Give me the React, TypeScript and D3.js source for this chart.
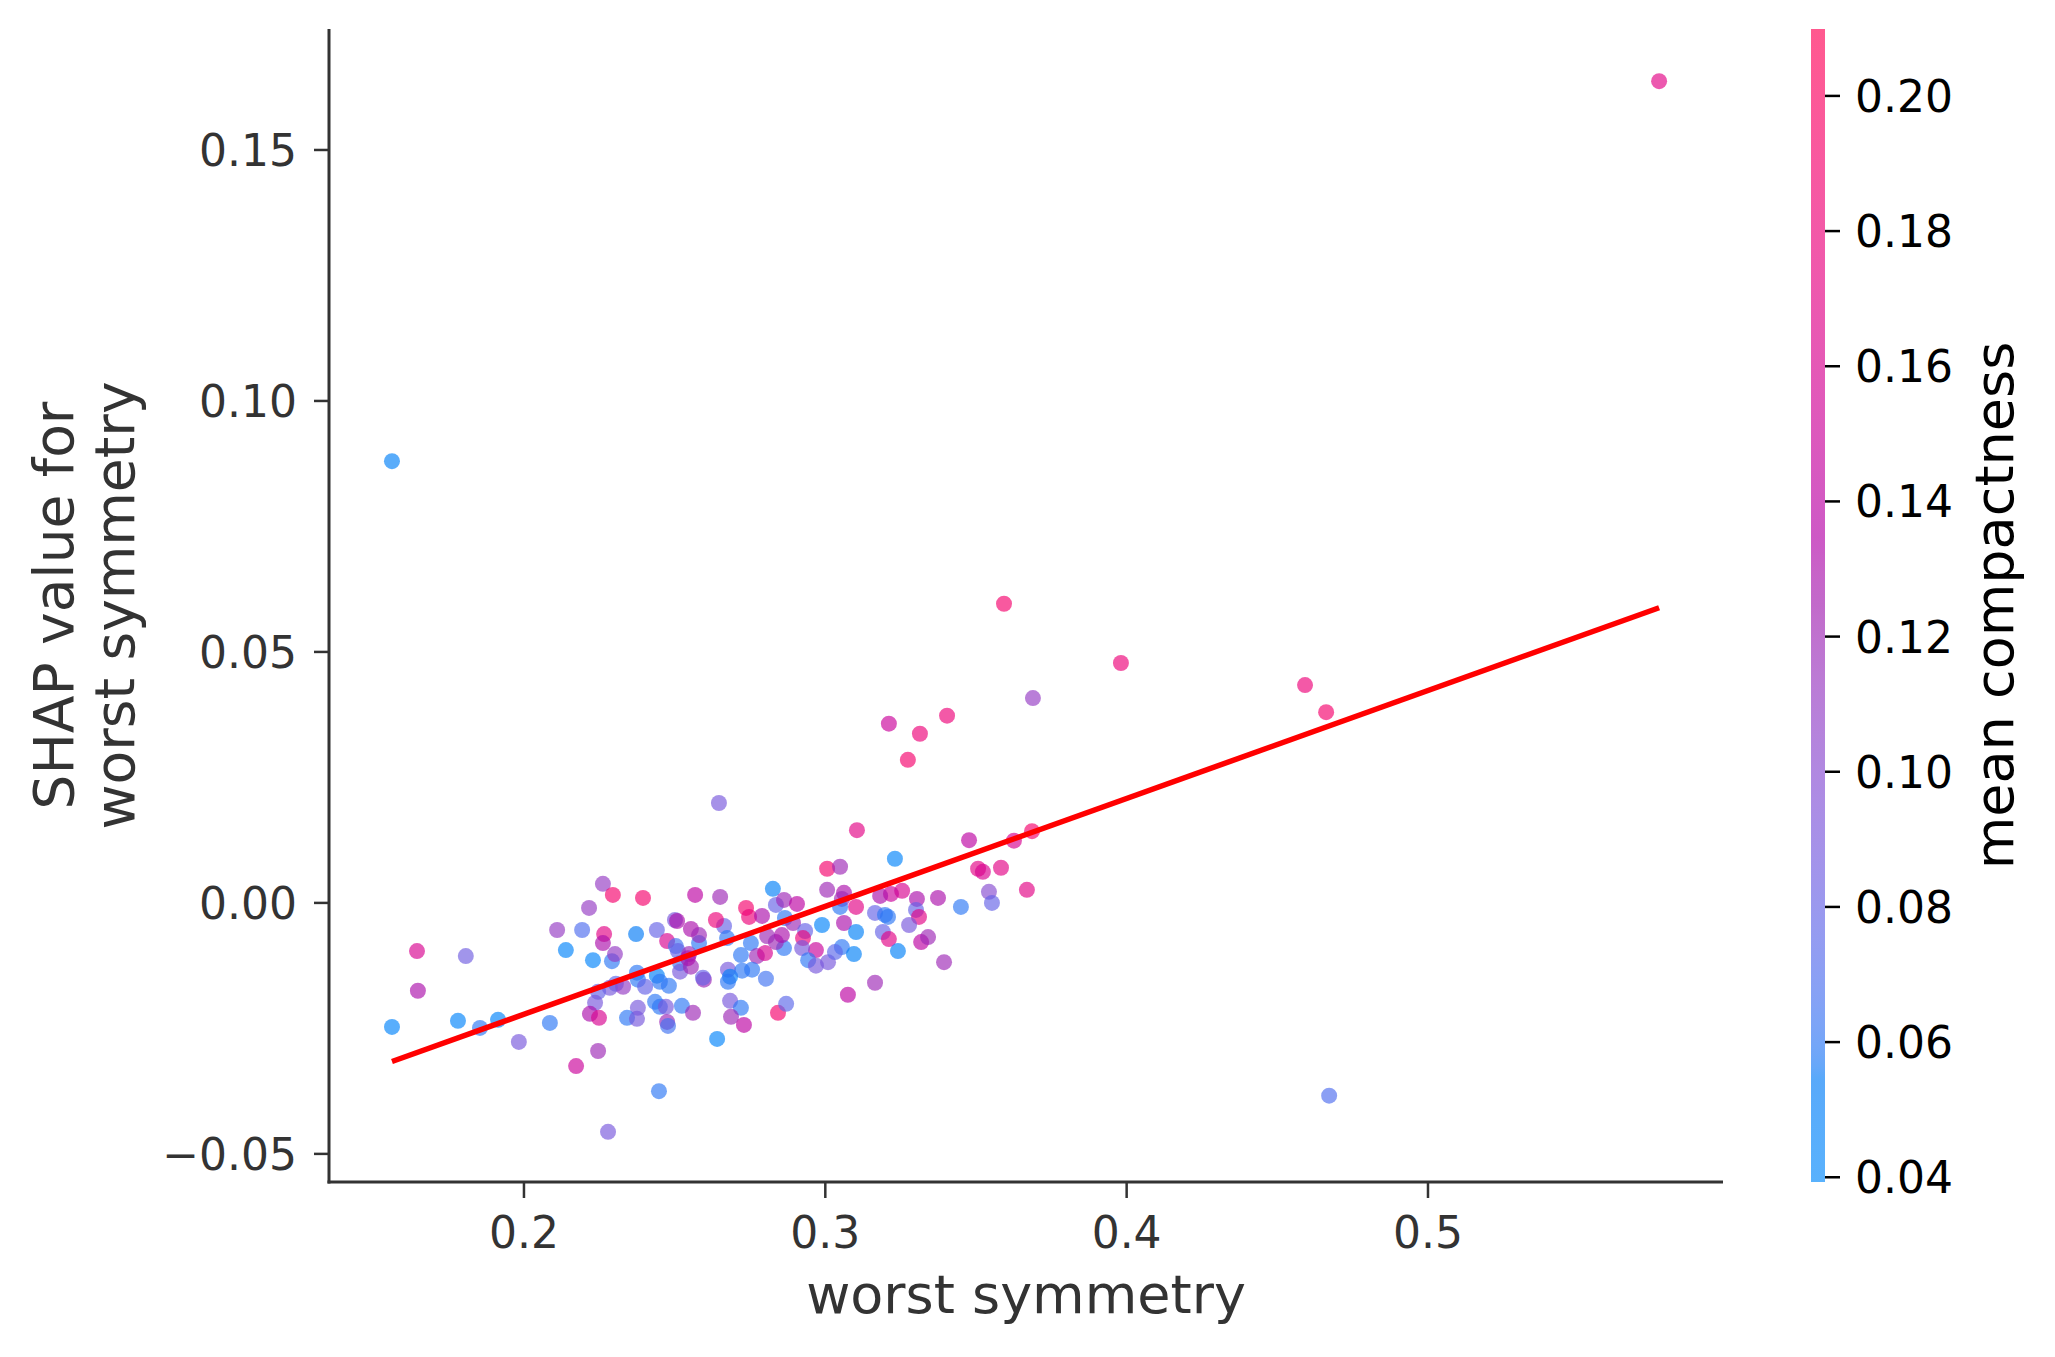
import React from "react";
import * as d3 from "d3";

// ---------- data ----------
const worstSymmetry: number[] = [
  0.1562, 0.1645, 0.1648, 0.1807, 0.1781, 0.1854, 0.1914, 0.1983, 0.2086, 0.2173,
  0.2110, 0.2193, 0.2139, 0.2216, 0.2262, 0.2229, 0.2295, 0.2395, 0.2568, 0.2266,
  0.2262, 0.2372, 0.2441, 0.2501, 0.2508, 0.2554, 0.2475, 0.2504, 0.2511, 0.2548,
  0.2581, 0.2292, 0.2302, 0.2375, 0.2378, 0.2441, 0.2451, 0.2481, 0.2518, 0.2518,
  0.2554, 0.2402, 0.2305, 0.2329, 0.2285, 0.2246, 0.2236, 0.2219, 0.2249, 0.2435,
  0.2451, 0.2471, 0.2378, 0.2342, 0.2375, 0.2475, 0.2478, 0.2524, 0.2561, 0.2448,
  0.2279, 0.2246,
  0.2647, 0.2651, 0.2826, 0.3006, 0.3006, 0.2836, 0.2863, 0.2906, 0.2737, 0.2747,
  0.2790, 0.2866, 0.2893, 0.2989, 0.2933, 0.2926, 0.2969, 0.2923, 0.2943, 0.2969,
  0.3009, 0.2863, 0.2836, 0.2856, 0.2807, 0.2753, 0.2720, 0.2773, 0.2800, 0.2757,
  0.2803, 0.2677, 0.2684, 0.2677, 0.2597, 0.2594, 0.2684, 0.2720, 0.2687, 0.2730,
  0.2641, 0.2843, 0.2870, 0.2664, 0.2674, 0.2637, 0.2581, 0.2544, 0.2724,
  0.3105, 0.3231, 0.3477, 0.3626, 0.3686, 0.3507, 0.3523, 0.3583, 0.3669, 0.3543,
  0.3553, 0.3450, 0.3374, 0.3304, 0.3301, 0.3311, 0.3255, 0.3218, 0.3182, 0.3049,
  0.3062, 0.3055, 0.3049, 0.3102, 0.3165, 0.3198, 0.3208, 0.3278, 0.3062, 0.3102,
  0.3191, 0.3211, 0.3318, 0.3341, 0.3241, 0.3055, 0.3032, 0.3095, 0.3394, 0.3165,
  0.3075,
  0.3593, 0.3689, 0.3404, 0.3314, 0.3211, 0.3274,
  0.1562, 0.3981, 0.4592, 0.4662, 0.4672, 0.5767,
];

const shapValues: number[] = [
  -0.0247, -0.0096, -0.0175, -0.0106, -0.0235, -0.0249, -0.0233, -0.0277, -0.0239, -0.0325,
  -0.0054, -0.0054, -0.0094, -0.0010, 0.0038, -0.0114, 0.0016, 0.0010, 0.0016, -0.0062,
  -0.0080, -0.0062, -0.0054, -0.0034, -0.0036, -0.0052, -0.0076, -0.0086, -0.0096, -0.0102,
  -0.0080, -0.0116, -0.0102, -0.0139, -0.0153, -0.0145, -0.0157, -0.0165, -0.0120, -0.0137,
  -0.0127, -0.0167, -0.0161, -0.0167, -0.0169, -0.0177, -0.0199, -0.0221, -0.0229, -0.0197,
  -0.0207, -0.0207, -0.0209, -0.0229, -0.0231, -0.0237, -0.0245, -0.0205, -0.0219, -0.0375,
  -0.0456, -0.0295,
  0.0199, 0.0012, 0.0028, 0.0068, 0.0026, -0.0004, 0.0006, -0.0002, -0.0010, -0.0028,
  -0.0026, -0.0030, -0.0040, -0.0044, -0.0056, -0.0070, -0.0094, -0.0090, -0.0114, -0.0125,
  -0.0118, -0.0090, -0.0078, -0.0064, -0.0066, -0.0080, -0.0104, -0.0106, -0.0100, -0.0133,
  -0.0151, -0.0133, -0.0147, -0.0157, -0.0153, -0.0149, -0.0195, -0.0209, -0.0227, -0.0243,
  -0.0271, -0.0219, -0.0201, -0.0046, -0.0070, -0.0034, -0.0064, -0.0110, -0.0135,
  0.0145, 0.0088, 0.0125, 0.0124, 0.0143, 0.0068, 0.0062, 0.0070, 0.0026, 0.0022,
  0.0000, -0.0008, 0.0010, 0.0008, -0.0014, -0.0028, 0.0024, 0.0018, 0.0014, 0.0072,
  0.0020, 0.0008, -0.0008, -0.0008, -0.0020, -0.0024, -0.0028, -0.0044, -0.0040, -0.0058,
  -0.0058, -0.0072, -0.0078, -0.0068, -0.0096, -0.0088, -0.0098, -0.0102, -0.0118, -0.0159,
  -0.0183,
  0.0596, 0.0408, 0.0373, 0.0337, 0.0357, 0.0285,
  0.0880, 0.0478, 0.0434, 0.0380, -0.0384, 0.1637,
];

const meanCompactness: number[] = [
  0.045, 0.16, 0.13, 0.085, 0.045, 0.06, 0.045, 0.09, 0.06, 0.15,
  0.11, 0.07, 0.045, 0.11, 0.11, 0.045, 0.19, 0.19, 0.14, 0.17,
  0.13, 0.055, 0.08, 0.09, 0.13, 0.13, 0.16, 0.065, 0.08, 0.12,
  0.06, 0.06, 0.11, 0.06, 0.06, 0.05, 0.06, 0.06, 0.065, 0.09,
  0.12, 0.08, 0.075, 0.11, 0.09, 0.08, 0.09, 0.13, 0.16, 0.06,
  0.06, 0.09, 0.09, 0.06, 0.09, 0.12, 0.065, 0.06, 0.12, 0.06,
  0.09, 0.12,
  0.09, 0.12, 0.05, 0.19, 0.12, 0.08, 0.12, 0.14, 0.19, 0.18,
  0.13, 0.06, 0.12, 0.045, 0.08, 0.18, 0.15, 0.09, 0.06, 0.09,
  0.09, 0.06, 0.12, 0.13, 0.12, 0.06, 0.06, 0.12, 0.16, 0.06,
  0.065, 0.09, 0.05, 0.06, 0.12, 0.08, 0.09, 0.06, 0.12, 0.14,
  0.045, 0.19, 0.075, 0.08, 0.06, 0.18, 0.12, 0.13, 0.06,
  0.17, 0.045, 0.14, 0.16, 0.19, 0.17, 0.16, 0.17, 0.17, 0.1,
  0.08, 0.06, 0.13, 0.13, 0.08, 0.17, 0.16, 0.15, 0.13, 0.12,
  0.13, 0.12, 0.06, 0.17, 0.08, 0.06, 0.06, 0.09, 0.13, 0.05,
  0.08, 0.17, 0.14, 0.12, 0.05, 0.06, 0.075, 0.05, 0.12, 0.12,
  0.14,
  0.19, 0.11, 0.18, 0.18, 0.15, 0.19,
  0.05, 0.18, 0.18, 0.19, 0.07, 0.17,
];

// fitted trend line
const trendX: number[] = [0.1562, 0.5767];
const trendY: number[] = [-0.0316, 0.0588];

const xTicks: number[] = [0.2, 0.3, 0.4, 0.5];
const xTickLabels: string[] = ["0.2", "0.3", "0.4", "0.5"];
const yTicks: number[] = [-0.05, 0.0, 0.05, 0.1, 0.15];
const yTickLabels: string[] = ["\u22120.05", "0.00", "0.05", "0.10", "0.15"];
const cTicks: number[] = [0.04, 0.06, 0.08, 0.1, 0.12, 0.14, 0.16, 0.18, 0.2];
const cTickLabels: string[] = ["0.04", "0.06", "0.08", "0.10", "0.12", "0.14", "0.16", "0.18", "0.20"];

const xDomain: number[] = [0.1353, 0.5979];
const yDomain: number[] = [-0.0556, 0.1741];
const cDomain: number[] = [0.0393, 0.2099];

// ---------- layout ----------
const W = 2055;
const H = 1357;
const AX = { left: 329, right: 1723, top: 29, bottom: 1182 };
const CB = { left: 1811, width: 14 };
const FONT = "'DejaVu Sans', sans-serif";
const AXIS_COLOR = "#333333";
const ALPHA = 0.65;
const LABEL_SIZE = 54;

// SHAP red_blue colormap (CIELAB LCh, lightness dip in the middle)
function redBlue(t: number): string {
  const tt = Math.max(0, Math.min(1, t));
  const l = tt < 0.5 ? 54 + (40 - 54) * (tt / 0.5) : 40 + (54 - 40) * ((tt - 0.5) / 0.5);
  const c = 70 + (90 - 70) * tt;
  const h = 266.93 + (380.32 - 266.93) * tt;
  const col = d3.rgb(d3.hcl(h % 360, c, l));
  const clamp = (v: number) => Math.max(0, Math.min(255, Math.round(v)));
  return d3.rgb(clamp(col.r), clamp(col.g), clamp(col.b)).formatHex();
}

export default function App() {
  const x = d3.scaleLinear().domain(xDomain).range([AX.left, AX.right]);
  const y = d3.scaleLinear().domain(yDomain).range([AX.bottom, AX.top]);
  const cNorm = d3.scaleLinear().domain(cDomain).range([0, 1]).clamp(true);
  const cY = d3.scaleLinear().domain(cDomain).range([AX.bottom, AX.top]);

  const points = worstSymmetry.map((v, i) => ({
    x: v,
    y: shapValues[i],
    c: meanCompactness[i],
  }));

  const line = d3
    .line<number>()
    .x((d) => x(d))
    .y((_, i) => y(trendY[i]));

  const gradStops = d3.range(0, 101).map((i) => i / 100);

  return (
    <svg
      width={W}
      height={H}
      style={{ position: "absolute", left: 0, top: 0, background: "#fff" }}
      fontFamily={FONT}
    >
      <defs>
        <linearGradient id="cbGrad" x1="0" y1="1" x2="0" y2="0">
          {gradStops.map((t) => (
            <stop key={t} offset={t} stopColor={redBlue(t)} stopOpacity={ALPHA} />
          ))}
        </linearGradient>
      </defs>
      <rect x={0} y={0} width={W} height={H} fill="#ffffff" />

      {/* points */}
      <g>
        {points.map((p, i) => (
          <circle
            key={i}
            cx={x(p.x)}
            cy={y(p.y)}
            r={8}
            fill={redBlue(cNorm(p.c))}
            fillOpacity={ALPHA}
          />
        ))}
      </g>

      {/* trend line */}
      <path d={line(trendX) || ""} fill="none" stroke="#ff0000" strokeWidth={5.5} />

      {/* spines */}
      <line x1={AX.left} x2={AX.left} y1={AX.top} y2={AX.bottom + 1.5} stroke={AXIS_COLOR} strokeWidth={3} />
      <line x1={AX.left - 1.5} x2={AX.right} y1={AX.bottom} y2={AX.bottom} stroke={AXIS_COLOR} strokeWidth={3} />

      {/* x ticks */}
      {xTicks.map((t, i) => (
        <g key={"xt" + i}>
          <line x1={x(t)} x2={x(t)} y1={AX.bottom} y2={AX.bottom + 16} stroke={AXIS_COLOR} strokeWidth={2.5} />
          <text x={x(t)} y={1248} textAnchor="middle" fontSize={44} fill={AXIS_COLOR}>
            {xTickLabels[i]}
          </text>
        </g>
      ))}

      {/* y ticks */}
      {yTicks.map((t, i) => (
        <g key={"yt" + i}>
          <line x1={AX.left - 15} x2={AX.left} y1={y(t)} y2={y(t)} stroke={AXIS_COLOR} strokeWidth={2.5} />
          <text x={297} y={y(t) + 16} textAnchor="end" fontSize={44} fill={AXIS_COLOR}>
            {yTickLabels[i]}
          </text>
        </g>
      ))}

      {/* axis labels */}
      <text x={(AX.left + AX.right) / 2} y={1313} textAnchor="middle" fontSize={LABEL_SIZE} fill={AXIS_COLOR}>
        worst symmetry
      </text>
      <g transform={`translate(0, ${(AX.top + AX.bottom) / 2}) rotate(-90)`}>
        <text x={0} y={73} textAnchor="middle" fontSize={55} fill={AXIS_COLOR}>
          SHAP value for
        </text>
        <text x={0} y={134} textAnchor="middle" fontSize={55} fill={AXIS_COLOR}>
          worst symmetry
        </text>
      </g>

      {/* colorbar */}
      <rect x={CB.left} y={AX.top} width={CB.width} height={AX.bottom - AX.top} fill="url(#cbGrad)" />
      {cTicks.map((t, i) => (
        <g key={"ct" + i}>
          <line
            x1={CB.left + CB.width}
            x2={CB.left + CB.width + 15}
            y1={cY(t)}
            y2={cY(t)}
            stroke="#000"
            strokeWidth={2.5}
          />
          <text x={1855} y={cY(t) + 16} textAnchor="start" fontSize={44} fill="#000">
            {cTickLabels[i]}
          </text>
        </g>
      ))}
      <g transform={`translate(2013, ${(AX.top + AX.bottom) / 2}) rotate(-90)`}>
        <text x={0} y={0} textAnchor="middle" fontSize={LABEL_SIZE} fill="#000">
          mean compactness
        </text>
      </g>
    </svg>
  );
}
